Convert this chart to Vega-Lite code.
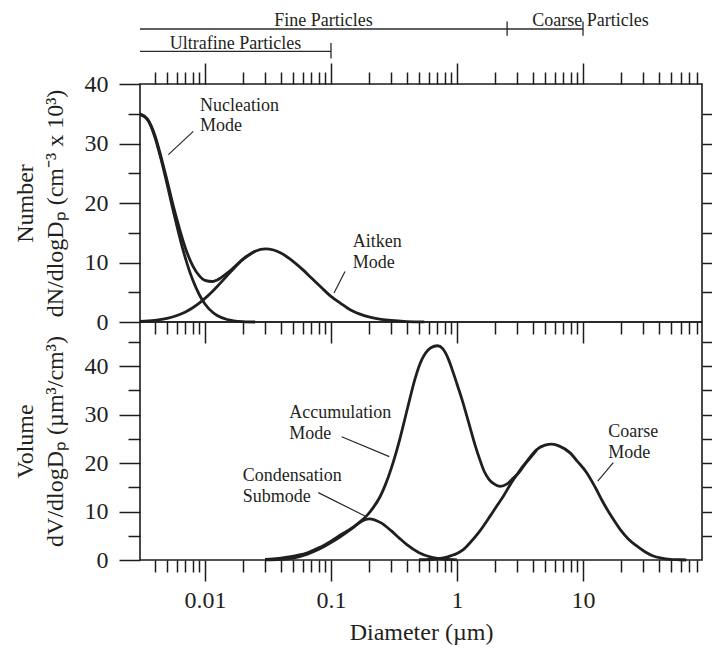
{
  "$schema": "https://vega.github.io/schema/vega-lite/v6.json",
  "padding": {"left": 12, "top": 10, "right": 0, "bottom": 0},
  "background": "white",
  "bounds": "flush",
  "spacing": 0,
  "config": {
    "font": "Liberation Serif",
    "view": {"stroke": "#1c1c1c", "strokeWidth": 1.6},
    "axis": {
      "domain": false,
      "grid": false,
      "tickColor": "#1c1c1c",
      "tickWidth": 1.5,
      "labelFont": "Liberation Serif",
      "labelFontSize": 24,
      "labelColor": "#231f20",
      "labelFlush": false,
      "labelOverlap": false,
      "titleFont": "Liberation Serif",
      "titleFontSize": 24,
      "titleFontWeight": "normal",
      "titleColor": "#231f20"
    },
    "text": {"font": "Liberation Serif", "fontSize": 18, "color": "#231f20"}
  },
  "datasets": {
    "num": [
      {"s": "total", "d": 0.00305, "n": 35.0},
      {"s": "total", "d": 0.0035, "n": 34.1},
      {"s": "total", "d": 0.004, "n": 31.4},
      {"s": "total", "d": 0.0045, "n": 27.6},
      {"s": "total", "d": 0.005, "n": 23.8},
      {"s": "total", "d": 0.0055, "n": 20.2},
      {"s": "total", "d": 0.006, "n": 17.15},
      {"s": "total", "d": 0.0066, "n": 14.1},
      {"s": "total", "d": 0.007, "n": 12.4},
      {"s": "total", "d": 0.008, "n": 9.44},
      {"s": "total", "d": 0.009, "n": 7.79},
      {"s": "total", "d": 0.01, "n": 7.0},
      {"s": "total", "d": 0.0115, "n": 6.81},
      {"s": "total", "d": 0.0125, "n": 7.06},
      {"s": "total", "d": 0.015, "n": 8.22},
      {"s": "total", "d": 0.0165, "n": 8.95},
      {"s": "total", "d": 0.02, "n": 10.57},
      {"s": "total", "d": 0.025, "n": 11.9},
      {"s": "total", "d": 0.0303, "n": 12.3},
      {"s": "total", "d": 0.035, "n": 12.1},
      {"s": "total", "d": 0.04, "n": 11.6},
      {"s": "total", "d": 0.05, "n": 10.2},
      {"s": "total", "d": 0.06, "n": 8.76},
      {"s": "total", "d": 0.07, "n": 7.39},
      {"s": "total", "d": 0.08, "n": 6.2},
      {"s": "total", "d": 0.0877, "n": 5.4},
      {"s": "total", "d": 0.1, "n": 4.3},
      {"s": "total", "d": 0.12, "n": 3.1},
      {"s": "total", "d": 0.134, "n": 2.4},
      {"s": "total", "d": 0.15, "n": 1.8},
      {"s": "total", "d": 0.2, "n": 0.85},
      {"s": "total", "d": 0.25, "n": 0.45},
      {"s": "total", "d": 0.3, "n": 0.25},
      {"s": "total", "d": 0.4, "n": 0.08},
      {"s": "total", "d": 0.55, "n": 0.02},
      {"s": "nucleation", "d": 0.00305, "n": 34.9},
      {"s": "nucleation", "d": 0.0035, "n": 34.0},
      {"s": "nucleation", "d": 0.004, "n": 31.1},
      {"s": "nucleation", "d": 0.0045, "n": 27.2},
      {"s": "nucleation", "d": 0.005, "n": 23.2},
      {"s": "nucleation", "d": 0.0055, "n": 19.4},
      {"s": "nucleation", "d": 0.006, "n": 16.05},
      {"s": "nucleation", "d": 0.0066, "n": 12.6},
      {"s": "nucleation", "d": 0.007, "n": 10.7},
      {"s": "nucleation", "d": 0.008, "n": 7.04},
      {"s": "nucleation", "d": 0.009, "n": 4.62},
      {"s": "nucleation", "d": 0.01, "n": 3.03},
      {"s": "nucleation", "d": 0.0115, "n": 1.63},
      {"s": "nucleation", "d": 0.0125, "n": 1.09},
      {"s": "nucleation", "d": 0.015, "n": 0.42},
      {"s": "nucleation", "d": 0.02, "n": 0.07},
      {"s": "nucleation", "d": 0.025, "n": 0.0},
      {"s": "aitken", "d": 0.00305, "n": 0.09},
      {"s": "aitken", "d": 0.004, "n": 0.28},
      {"s": "aitken", "d": 0.005, "n": 0.62},
      {"s": "aitken", "d": 0.006, "n": 1.1},
      {"s": "aitken", "d": 0.007, "n": 1.7},
      {"s": "aitken", "d": 0.008, "n": 2.4},
      {"s": "aitken", "d": 0.009, "n": 3.17},
      {"s": "aitken", "d": 0.01, "n": 3.97},
      {"s": "aitken", "d": 0.0115, "n": 5.18},
      {"s": "aitken", "d": 0.0125, "n": 5.97},
      {"s": "aitken", "d": 0.015, "n": 7.8},
      {"s": "aitken", "d": 0.0165, "n": 8.75},
      {"s": "aitken", "d": 0.02, "n": 10.5},
      {"s": "aitken", "d": 0.025, "n": 11.9}
    ],
    "vol": [
      {"s": "total", "d": 0.03, "v": 0.1},
      {"s": "total", "d": 0.035, "v": 0.25},
      {"s": "total", "d": 0.045, "v": 0.6},
      {"s": "total", "d": 0.055, "v": 1.0},
      {"s": "total", "d": 0.065, "v": 1.5},
      {"s": "total", "d": 0.08, "v": 2.5},
      {"s": "total", "d": 0.1, "v": 3.9},
      {"s": "total", "d": 0.12, "v": 5.2},
      {"s": "total", "d": 0.145, "v": 6.5},
      {"s": "total", "d": 0.17, "v": 7.9},
      {"s": "total", "d": 0.19, "v": 9.0},
      {"s": "total", "d": 0.215, "v": 10.7},
      {"s": "total", "d": 0.245, "v": 13.05},
      {"s": "total", "d": 0.27, "v": 15.5},
      {"s": "total", "d": 0.3, "v": 18.8},
      {"s": "total", "d": 0.33, "v": 22.3},
      {"s": "total", "d": 0.353, "v": 25.1},
      {"s": "total", "d": 0.39, "v": 29.6},
      {"s": "total", "d": 0.4238, "v": 33.4},
      {"s": "total", "d": 0.465, "v": 37.4},
      {"s": "total", "d": 0.5087, "v": 40.5},
      {"s": "total", "d": 0.56, "v": 42.6},
      {"s": "total", "d": 0.62, "v": 43.8},
      {"s": "total", "d": 0.7, "v": 44.2},
      {"s": "total", "d": 0.77, "v": 43.6},
      {"s": "total", "d": 0.85, "v": 41.6},
      {"s": "total", "d": 0.935, "v": 38.6},
      {"s": "total", "d": 1.0, "v": 36.3},
      {"s": "total", "d": 1.1, "v": 33.0},
      {"s": "total", "d": 1.194, "v": 29.8},
      {"s": "total", "d": 1.3, "v": 26.4},
      {"s": "total", "d": 1.4, "v": 23.5},
      {"s": "total", "d": 1.523, "v": 20.6},
      {"s": "total", "d": 1.65, "v": 18.2},
      {"s": "total", "d": 1.8, "v": 16.6},
      {"s": "total", "d": 1.942, "v": 15.8},
      {"s": "total", "d": 2.194, "v": 15.2},
      {"s": "total", "d": 2.5, "v": 15.7},
      {"s": "total", "d": 2.8, "v": 16.9},
      {"s": "total", "d": 3.17, "v": 18.35},
      {"s": "total", "d": 3.6, "v": 20.4},
      {"s": "total", "d": 4.3, "v": 22.8},
      {"s": "total", "d": 5.0, "v": 23.7},
      {"s": "total", "d": 5.66, "v": 23.9},
      {"s": "total", "d": 6.5, "v": 23.5},
      {"s": "total", "d": 7.9, "v": 22.1},
      {"s": "total", "d": 9.0, "v": 20.4},
      {"s": "total", "d": 10.7, "v": 18.0},
      {"s": "total", "d": 12.5, "v": 15.0},
      {"s": "total", "d": 14.5, "v": 11.8},
      {"s": "total", "d": 17.0, "v": 8.8},
      {"s": "total", "d": 19.7, "v": 6.33},
      {"s": "total", "d": 23.0, "v": 4.3},
      {"s": "total", "d": 26.7, "v": 2.9},
      {"s": "total", "d": 31.0, "v": 1.7},
      {"s": "total", "d": 36.1, "v": 0.82},
      {"s": "total", "d": 42.0, "v": 0.4},
      {"s": "total", "d": 49.0, "v": 0.15},
      {"s": "total", "d": 58.0, "v": 0.05},
      {"s": "total", "d": 66.0, "v": 0.0},
      {"s": "condensation", "d": 0.03, "v": 0.05},
      {"s": "condensation", "d": 0.04, "v": 0.15},
      {"s": "condensation", "d": 0.05, "v": 0.4},
      {"s": "condensation", "d": 0.065, "v": 1.2},
      {"s": "condensation", "d": 0.08, "v": 2.2},
      {"s": "condensation", "d": 0.1, "v": 3.6},
      {"s": "condensation", "d": 0.12, "v": 4.9},
      {"s": "condensation", "d": 0.15, "v": 6.7},
      {"s": "condensation", "d": 0.175, "v": 8.0},
      {"s": "condensation", "d": 0.2, "v": 8.5},
      {"s": "condensation", "d": 0.25, "v": 7.66},
      {"s": "condensation", "d": 0.3, "v": 6.06},
      {"s": "condensation", "d": 0.35, "v": 4.47},
      {"s": "condensation", "d": 0.4, "v": 3.17},
      {"s": "condensation", "d": 0.5, "v": 1.52},
      {"s": "condensation", "d": 0.6, "v": 0.72},
      {"s": "condensation", "d": 0.7, "v": 0.34},
      {"s": "condensation", "d": 0.8, "v": 0.17},
      {"s": "condensation", "d": 1.0, "v": 0.04},
      {"s": "coarse", "d": 0.5, "v": 0.05},
      {"s": "coarse", "d": 0.6, "v": 0.1},
      {"s": "coarse", "d": 0.7, "v": 0.25},
      {"s": "coarse", "d": 0.8, "v": 0.5},
      {"s": "coarse", "d": 0.9, "v": 0.9},
      {"s": "coarse", "d": 1.0, "v": 1.35},
      {"s": "coarse", "d": 1.128, "v": 2.2},
      {"s": "coarse", "d": 1.275, "v": 3.6},
      {"s": "coarse", "d": 1.5, "v": 5.8},
      {"s": "coarse", "d": 1.836, "v": 9.1},
      {"s": "coarse", "d": 2.1, "v": 11.4},
      {"s": "coarse", "d": 2.34, "v": 13.2},
      {"s": "coarse", "d": 2.65, "v": 15.6},
      {"s": "coarse", "d": 2.99, "v": 17.6},
      {"s": "coarse", "d": 3.4, "v": 19.6},
      {"s": "coarse", "d": 3.6, "v": 20.3},
      {"s": "coarse", "d": 4.3, "v": 22.7}
    ],
    "numText": [
      {"d": 0.00913, "n": 35.5, "t": "Nucleation"},
      {"d": 0.00913, "n": 32.15, "t": "Mode"},
      {"d": 0.1487, "n": 12.6, "t": "Aitken"},
      {"d": 0.1487, "n": 9.08, "t": "Mode"}
    ],
    "numLead": [
      {"d": 0.00808, "n": 32.03, "d2": 0.00512, "n2": 28.13},
      {"d": 0.1292, "n": 8.5, "d2": 0.1057, "n2": 4.87}
    ],
    "ranges": [
      {"d": 0.00305, "d2": 10, "n": 49.24},
      {"d": 0.00305, "d2": 0.1, "n": 45.5}
    ],
    "rangeEnds": [
      {"d": 2.5, "n": 48.1, "n2": 50.5},
      {"d": 10, "n": 48.1, "n2": 50.5},
      {"d": 0.1, "n": 44.3, "n2": 46.9}
    ],
    "rangeText": [
      {"d": 0.0872, "n": 49.8, "t": "Fine Particles"},
      {"d": 11.47, "n": 49.8, "t": "Coarse Particles"},
      {"d": 0.01747, "n": 45.95, "t": "Ultrafine Particles"}
    ],
    "volText": [
      {"d": 0.0467, "v": 29.36, "t": "Accumulation"},
      {"d": 0.0467, "v": 25.03, "t": "Mode"},
      {"d": 0.01993, "v": 16.29, "t": "Condensation"},
      {"d": 0.01993, "v": 11.96, "t": "Submode"},
      {"d": 15.89, "v": 25.44, "t": "Coarse"},
      {"d": 15.89, "v": 21.1, "t": "Mode"}
    ],
    "volLead": [
      {"d": 0.1216, "v": 25.44, "d2": 0.2904, "v2": 21.32},
      {"d": 0.0793, "v": 13.9, "d2": 0.1862, "v2": 9.07},
      {"d": 17.4, "v": 20.08, "d2": 13.09, "v2": 16.29}
    ]
  },
  "vconcat": [
    {
      "width": 562,
      "height": 238,
      "resolve": {"axis": {"x": "independent", "y": "independent"}},
      "layer": [
        {
          "data": {"name": "num"},
          "mark": {"type": "line", "interpolate": "monotone", "stroke": "#1f1f1f", "strokeWidth": 2.8},
          "encoding": {
            "x": {"field": "d", "type": "quantitative",
              "scale": {"type": "log", "domain": [0.00305, 88], "nice": false},
              "axis": {"orient": "bottom", "labels": false, "title": null,
                "values": [0.004,0.005,0.006,0.007,0.008,0.009,0.01,0.02,0.03,0.04,0.05,0.06,0.07,0.08,0.09,0.1,0.2,0.3,0.4,0.5,0.6,0.7,0.8,0.9,1,2,3,4,5,6,7,8,9,10,20,30,40,50,60,70,80],
                "tickSize": {"condition": {"test": "indexof([0.01,0.1,1,10], datum.value) >= 0", "value": 21}, "value": 12}}},
            "y": {"field": "n", "type": "quantitative",
              "scale": {"domain": [0, 40], "nice": false},
              "axis": {"orient": "left", "values": [0,5,10,15,20,25,30,35,40],
                "labelExpr": "datum.value % 10 == 0 ? datum.label : ''",
                "labelPadding": 11,
                "tickSize": {"condition": {"test": "datum.value % 10 == 0", "value": 21}, "value": 12},
                "title": ["Number", "dN/dlogDₚ (cm⁻³ x 10³)"],
                "titleLineHeight": 30,
                "titlePadding": 17}},
            "detail": {"field": "s", "type": "nominal"}
          }
        },
        {
          "data": {"name": "numText"},
          "mark": {"type": "text", "align": "left", "baseline": "alphabetic"},
          "encoding": {
            "x": {"field": "d", "type": "quantitative",
              "scale": {"type": "log", "domain": [0.00305, 88], "nice": false},
              "axis": {"orient": "top", "labels": false, "title": null,
                "values": [0.004,0.005,0.006,0.007,0.008,0.009,0.01,0.02,0.03,0.04,0.05,0.06,0.07,0.08,0.09,0.1,0.2,0.3,0.4,0.5,0.6,0.7,0.8,0.9,1,2,3,4,5,6,7,8,9,10,20,30,40,50,60,70,80],
                "tickSize": {"condition": {"test": "indexof([0.01,0.1,1,10], datum.value) >= 0", "value": 21}, "value": 12}}},
            "y": {"field": "n", "type": "quantitative",
              "scale": {"domain": [0, 40], "nice": false},
              "axis": {"orient": "right", "labels": false, "title": null,
                "values": [5,10,15,20,25,30,35], "tickSize": 10}},
            "text": {"field": "t", "type": "nominal"}
          }
        },
        {
          "data": {"name": "numLead"},
          "mark": {"type": "rule", "stroke": "#2a2a2a", "strokeWidth": 1.2},
          "encoding": {
            "x": {"field": "d", "type": "quantitative", "scale": {"type": "log", "domain": [0.00305, 88], "nice": false}, "axis": null},
            "x2": {"field": "d2"},
            "y": {"field": "n", "type": "quantitative", "scale": {"domain": [0, 40], "nice": false}, "axis": null},
            "y2": {"field": "n2"}
          }
        },
        {
          "data": {"name": "ranges"},
          "mark": {"type": "rule", "stroke": "#2a2a2a", "strokeWidth": 1.3},
          "encoding": {
            "x": {"field": "d", "type": "quantitative", "scale": {"type": "log", "domain": [0.00305, 88], "nice": false}, "axis": null},
            "x2": {"field": "d2"},
            "y": {"field": "n", "type": "quantitative", "scale": {"domain": [0, 40], "nice": false}, "axis": null}
          }
        },
        {
          "data": {"name": "rangeEnds"},
          "mark": {"type": "rule", "stroke": "#2a2a2a", "strokeWidth": 1.3},
          "encoding": {
            "x": {"field": "d", "type": "quantitative", "scale": {"type": "log", "domain": [0.00305, 88], "nice": false}, "axis": null},
            "y": {"field": "n", "type": "quantitative", "scale": {"domain": [0, 40], "nice": false}, "axis": null},
            "y2": {"field": "n2"}
          }
        },
        {
          "data": {"name": "rangeText"},
          "mark": {"type": "text", "align": "center", "baseline": "alphabetic"},
          "encoding": {
            "x": {"field": "d", "type": "quantitative", "scale": {"type": "log", "domain": [0.00305, 88], "nice": false}, "axis": null},
            "y": {"field": "n", "type": "quantitative", "scale": {"domain": [0, 40], "nice": false}, "axis": null},
            "text": {"field": "t", "type": "nominal"}
          }
        }
      ]
    },
    {
      "width": 562,
      "height": 238,
      "resolve": {"axis": {"x": "independent", "y": "independent"}},
      "layer": [
        {
          "data": {"name": "vol"},
          "mark": {"type": "line", "interpolate": "monotone", "stroke": "#1f1f1f", "strokeWidth": 2.8},
          "encoding": {
            "x": {"field": "d", "type": "quantitative",
              "scale": {"type": "log", "domain": [0.00305, 88], "nice": false},
              "axis": {"orient": "bottom",
                "values": [0.004,0.005,0.006,0.007,0.008,0.009,0.01,0.02,0.03,0.04,0.05,0.06,0.07,0.08,0.09,0.1,0.2,0.3,0.4,0.5,0.6,0.7,0.8,0.9,1,2,3,4,5,6,7,8,9,10,20,30,40,50,60,70,80],
                "labelExpr": "datum.value == 0.01 ? '0.01' : datum.value == 0.1 ? '0.1' : datum.value == 1 ? '1' : datum.value == 10 ? '10' : ''",
                "labelPadding": 7,
                "tickSize": {"condition": {"test": "indexof([0.01,0.1,1,10], datum.value) >= 0", "value": 21}, "value": 12},
                "title": "Diameter (µm)",
                "titlePadding": 8}},
            "y": {"field": "v", "type": "quantitative",
              "scale": {"domain": [0, 49.1], "nice": false},
              "axis": {"orient": "left", "values": [0,5,10,15,20,25,30,35,40,45],
                "labelExpr": "datum.value % 10 == 0 ? datum.label : ''",
                "labelPadding": 11,
                "tickSize": {"condition": {"test": "datum.value % 10 == 0", "value": 21}, "value": 12},
                "title": ["Volume", "dV/dlogDₚ (µm³/cm³)"],
                "titleLineHeight": 30,
                "titlePadding": 17}},
            "detail": {"field": "s", "type": "nominal"}
          }
        },
        {
          "data": {"name": "volText"},
          "mark": {"type": "text", "align": "left", "baseline": "alphabetic"},
          "encoding": {
            "x": {"field": "d", "type": "quantitative", "scale": {"type": "log", "domain": [0.00305, 88], "nice": false}, "axis": null},
            "y": {"field": "v", "type": "quantitative",
              "scale": {"domain": [0, 49.1], "nice": false},
              "axis": {"orient": "right", "labels": false, "title": null,
                "values": [5,10,15,20,25,30,35,40,45], "tickSize": 10}},
            "text": {"field": "t", "type": "nominal"}
          }
        },
        {
          "data": {"name": "volLead"},
          "mark": {"type": "rule", "stroke": "#2a2a2a", "strokeWidth": 1.2},
          "encoding": {
            "x": {"field": "d", "type": "quantitative", "scale": {"type": "log", "domain": [0.00305, 88], "nice": false}, "axis": null},
            "x2": {"field": "d2"},
            "y": {"field": "v", "type": "quantitative", "scale": {"domain": [0, 49.1], "nice": false}, "axis": null},
            "y2": {"field": "v2"}
          }
        }
      ]
    }
  ]
}
